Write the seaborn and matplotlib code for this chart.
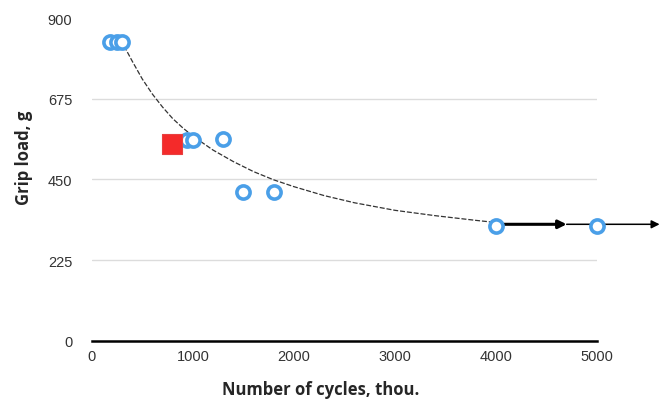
import matplotlib
matplotlib.use("Agg")
import matplotlib.pyplot as plt
import numpy as np
import pandas as pd
import seaborn as sns

# data
cycles = [180, 250, 300, 947, 1003, 1294, 1500, 1800, 4000, 5000]
grip = [833, 833, 833, 560, 560, 562, 415, 415, 320, 320]

red_cycles = [795]
red_grip = [550]

# trend line
trend_x = [320, 400, 500, 600, 700, 800, 900, 1000, 1200, 1400, 1600, 1800,
           2000, 2300, 2600, 3000, 3400, 3800, 4000]
trend_y = [822, 780, 730, 688, 652, 620, 594, 571, 532, 500, 472, 449,
           430, 405, 385, 364, 349, 336, 330]

# arrows (start, end) at the right
arrow_y = [325, 325]
arrow_start = [4000, 4700]
arrow_end = [4700, 5620]

yticks = [0, 225, 450, 675, 900]
xticks = [0, 1000, 2000, 3000, 4000, 5000]

pts = pd.DataFrame({"cycles": cycles, "grip": grip})
trend = pd.DataFrame({"x": trend_x, "y": trend_y})

sns.set_style("white")
plt.rcParams["font.family"] = ["Liberation Sans", "DejaVu Sans"]

fig = plt.figure(figsize=(6.7, 4.06), dpi=100)
ax = fig.add_axes([0.137, 0.158, 0.754, 0.795])

for v in yticks[1:4]:
    ax.axhline(v, color="#dcdcdc", lw=1, zorder=0)

sns.lineplot(data=trend, x="x", y="y", ax=ax, color="#333333", lw=0.9,
             linestyle=(0, (4, 1.5)), sort=False, zorder=2)

ax.annotate("", xy=(arrow_end[0], arrow_y[0]), xytext=(arrow_start[0], arrow_y[0]),
            arrowprops=dict(arrowstyle="-|>", color="black", lw=2.2,
                            mutation_scale=12, shrinkA=0, shrinkB=0),
            annotation_clip=False, zorder=3)
ax.annotate("", xy=(arrow_end[1], arrow_y[1]), xytext=(arrow_start[1], arrow_y[1]),
            arrowprops=dict(arrowstyle="-|>", color="black", lw=1.1,
                            mutation_scale=12, shrinkA=0, shrinkB=0),
            annotation_clip=False, zorder=3)

sns.scatterplot(data=pts, x="cycles", y="grip", ax=ax, marker="o", s=90,
                facecolor="white", edgecolor="#4a9fe8", linewidth=2.6, zorder=4,
                clip_on=False)
ax.scatter(red_cycles, red_grip, marker="s", s=215, color="#f42a2a",
           edgecolor="#e84040", linewidth=0.8, zorder=5)

ax.set_xlim(0, 5000)
ax.set_ylim(0, 900)
ax.set_xticks(xticks)
ax.set_yticks(yticks)
ax.tick_params(axis="both", length=0, labelsize=10.5, colors="#333333")
ax.tick_params(axis="y", pad=14)
ax.tick_params(axis="x", pad=6)
for side in ["top", "right", "left"]:
    ax.spines[side].set_visible(False)
ax.spines["bottom"].set_color("black")
ax.spines["bottom"].set_linewidth(1.8)
ax.set_xlabel("")
ax.set_ylabel("")

fig.text(0.478, 0.039, "Number of cycles, thou.", ha="center", va="center",
         fontsize=12, fontweight="bold", family=["Open Sans", "DejaVu Sans"])
fig.text(0.036, 0.611, "Grip load, g", ha="center", va="center", rotation=90,
         fontsize=12, fontweight="bold", family=["Open Sans", "DejaVu Sans"])

fig.savefig("out.png", dpi=100)
